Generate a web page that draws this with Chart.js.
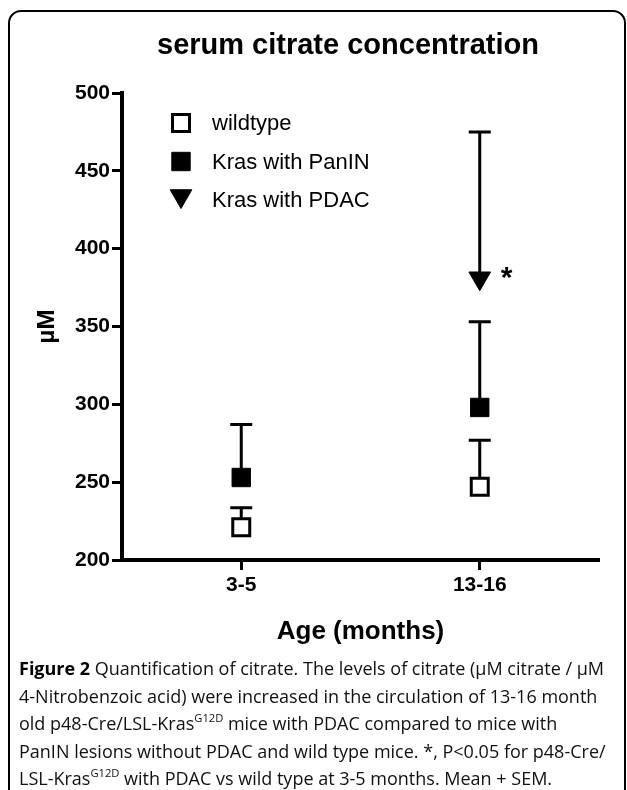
<!DOCTYPE html>
<html>
<head>
<meta charset="utf-8">
<script src="https://cdn.jsdelivr.net/npm/chart.js@4.4.1/dist/chart.umd.min.js"></script>
<style>
html,body{margin:0;padding:0;background:#fff;width:627px;height:790px;overflow:hidden;}
#frame{position:absolute;left:8px;top:10px;width:618px;height:900px;border:2px solid #000;border-radius:13px;box-sizing:border-box;}
#c{position:absolute;left:0;top:0;}
#title{position:absolute;left:146px;width:404px;top:27px;text-align:center;font-family:"Liberation Sans",Arial,sans-serif;font-weight:bold;font-size:29px;line-height:34px;color:#000;white-space:nowrap;}
#cap{position:absolute;left:19px;top:655px;font-family:"Open Sans",sans-serif;font-size:18px;line-height:27.6px;color:#111;white-space:nowrap;letter-spacing:0;}
#cap b{font-weight:700;color:#000;}
#cap sup{font-size:0.62em;line-height:0;vertical-align:0.75em;}
</style>
</head>
<body>
<div id="frame"></div>
<canvas id="c" width="627" height="660"></canvas>
<div id="title">serum citrate concentration</div>
<div id="cap"><b>Figure 2</b> Quantification of citrate. The levels of citrate (µM citrate / µM<br>4-Nitrobenzoic acid) were increased in the circulation of 13-16 month<br>old p48-Cre/LSL-Kras<sup>G12D</sup> mice with PDAC compared to mice with<br>PanIN lesions without PDAC and wild type mice. *, P&lt;0.05 for p48-Cre/<br>LSL-Kras<sup>G12D</sup> with PDAC vs wild type at 3-5 months. Mean + SEM.</div>
<script>
// ---- data ----
const categories = ['3-5', '13-16'];
const seriesNames = ['wildtype', 'Kras with PanIN', 'Kras with PDAC'];
const wildtypeMean = [221, 247];
const wildtypeSEM = [12.5, 30];
const panINMean = [253, 298];
const panINSEM = [34, 55];
const pdacMean = [null, 381];
const pdacSEM = [null, 94];
const yTicks = [200, 250, 300, 350, 400, 450, 500];
const significanceMarks = [null, '*']; // on PDAC series

const FONT = '"Liberation Sans", Arial, sans-serif';

const errorBars = {
  id: 'errorBars',
  beforeDatasetsDraw(chart) {
    const {ctx, scales: {x, y}} = chart;
    ctx.save();
    ctx.strokeStyle = '#000';
    ctx.lineWidth = 3;
    chart.data.datasets.forEach(ds => {
      ds.data.forEach((v, i) => {
        if (v == null || ds.sem[i] == null) return;
        const px = x.getPixelForValue(i);
        const py = y.getPixelForValue(v);
        const top = y.getPixelForValue(v + ds.sem[i]);
        ctx.beginPath();
        ctx.moveTo(px, py);
        ctx.lineTo(px, top);
        ctx.moveTo(px - 11, top);
        ctx.lineTo(px + 11, top);
        ctx.stroke();
      });
    });
    ctx.restore();
  },
  afterDatasetsDraw(chart) {
    const {ctx, scales: {x, y}} = chart;
    ctx.save();
    ctx.fillStyle = '#000';
    ctx.font = 'bold 30px ' + FONT;
    ctx.textAlign = 'left';
    ctx.textBaseline = 'alphabetic';
    significanceMarks.forEach((m, i) => {
      if (!m) return;
      const px = x.getPixelForValue(i);
      const py = y.getPixelForValue(pdacMean[i]);
      ctx.fillText(m, px + 21, py + 9);
    });
    ctx.restore();
  }
};

const customLegend = {
  id: 'customLegend',
  afterDraw(chart) {
    const {ctx, chartArea} = chart;
    ctx.save();
    ctx.font = '22px ' + FONT;
    ctx.textBaseline = 'middle';
    ctx.textAlign = 'left';
    chart.data.datasets.forEach((ds, i) => {
      const rowY = chartArea.top + 30 + i * 38.5;
      const mx = chartArea.left + 59;
      ctx.fillStyle = ds.pointBackgroundColor;
      ctx.strokeStyle = ds.pointBorderColor;
      ctx.lineWidth = ds.pointBorderWidth;
      const dy = ds.pointStyle === 'triangle' ? -4 : 0;
      Chart.helpers.drawPoint(ctx, {
        pointStyle: ds.pointStyle, rotation: ds.pointRotation || 0,
        radius: ds.pointRadius, borderWidth: ds.pointBorderWidth
      }, mx, rowY + dy);
      ctx.fillStyle = '#000';
      ctx.fillText(ds.label, chartArea.left + 90, rowY + 1);
    });
    ctx.restore();
  }
};

const tickFont = {family: FONT, size: 21, weight: 'bold'};

new Chart(document.getElementById('c'), {
  type: 'line',
  data: {
    labels: categories,
    datasets: [
      {label: seriesNames[0], data: wildtypeMean, sem: wildtypeSEM, showLine: false,
       pointStyle: 'rect', pointRadius: 12, pointBorderWidth: 3,
       pointBackgroundColor: '#fff', pointBorderColor: '#000'},
      {label: seriesNames[1], data: panINMean, sem: panINSEM, showLine: false,
       pointStyle: 'rect', pointRadius: 13, pointBorderWidth: 1,
       pointBackgroundColor: '#000', pointBorderColor: '#000'},
      {label: seriesNames[2], data: pdacMean, sem: pdacSEM, showLine: false,
       pointStyle: 'triangle', pointRotation: 180, pointRadius: 12.5, pointBorderWidth: 1,
       pointBackgroundColor: '#000', pointBorderColor: '#000'}
    ]
  },
  options: {
    responsive: false,
    animation: false,
    events: [],
    layout: {padding: {left: 0, right: 28, top: 93, bottom: 0}},
    plugins: {legend: {display: false}, title: {display: false}, tooltip: {enabled: false}},
    scales: {
      x: {
        type: 'category',
        offset: true,
        grid: {display: true, drawOnChartArea: false, drawTicks: true, tickLength: 10,
               tickWidth: 3, tickColor: '#000', offset: false},
        border: {display: true, width: 4, color: '#000'},
        ticks: {font: tickFont, color: '#000', padding: 3},
        title: {display: true, text: 'Age (months)', color: '#000',
                font: {family: FONT, size: 26, weight: 'bold'}, padding: {top: 0, bottom: 13}},
        afterFit(s) { s.height = 100; }
      },
      y: {
        min: 200, max: 500,
        afterBuildTicks(s) { s.ticks = yTicks.map(v => ({value: v})); },
        grid: {display: true, drawOnChartArea: false, drawTicks: true, tickLength: 10,
               tickWidth: 3, tickColor: '#000'},
        border: {display: true, width: 4, color: '#000'},
        ticks: {font: tickFont, color: '#000', padding: 2},
        title: {display: true, text: 'µM', color: '#000',
                font: {family: FONT, size: 24, weight: 'bold'}, padding: {top: 33, bottom: 0}},
        afterFit(s) { s.width = 122; }
      }
    }
  },
  plugins: [errorBars, customLegend]
});
</script>
</body>
</html>
